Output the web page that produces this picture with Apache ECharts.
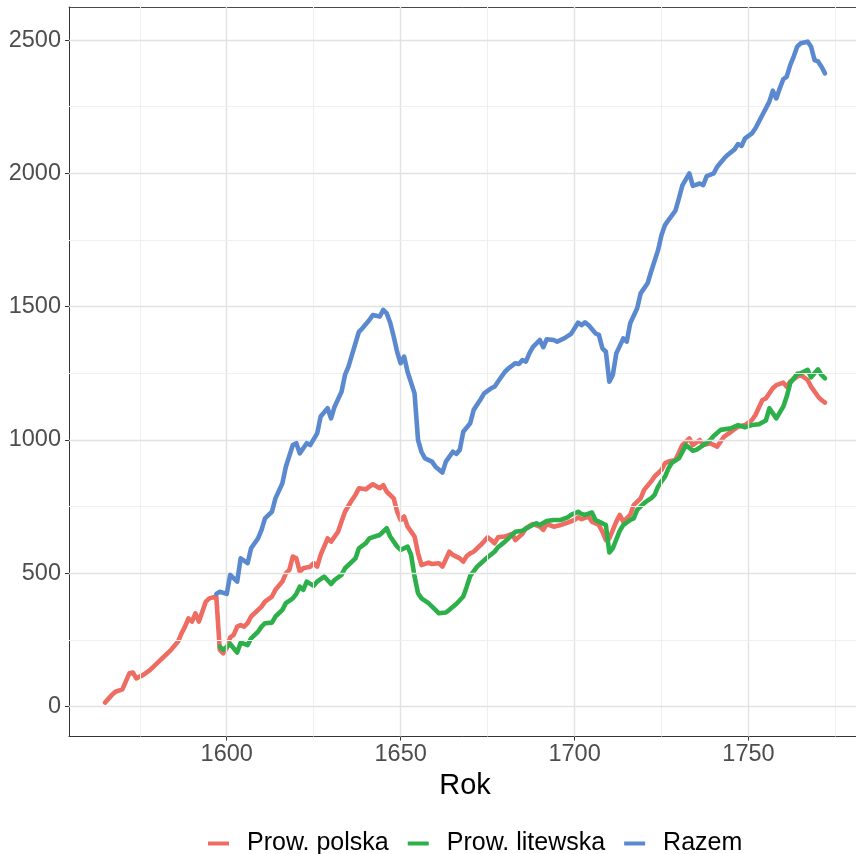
<!DOCTYPE html>
<html>
<head>
<meta charset="utf-8">
<script src="https://cdn.jsdelivr.net/npm/echarts@6/dist/echarts.min.js"></script>
<style>
html,body{margin:0;padding:0;background:#fff;}
#c{width:856px;height:854px;}
</style>
</head>
<body>
<div id="c"></div>
<script>
// ---- data (year, value) ----
const polskaYears = [1565,1567,1568,1570,1572,1573,1574,1576,1578,1580,1582,1584,1586,1587,1588,1589,1590,1591,1592,1594,1595,1597,1598,1599,1600,1601,1602,1603,1604,1605,1606,1607,1608,1610,1611,1613,1614,1616,1617,1618,1619,1620,1621,1622,1624,1625,1626,1627,1629,1630,1632,1633,1634,1636,1637,1638,1640,1641,1642,1644,1645,1646,1648,1649,1650,1651,1652,1654,1655,1656,1658,1659,1661,1662,1664,1665,1667,1668,1669,1670,1671,1672,1673,1674,1675,1676,1677,1678,1680,1682,1683,1685,1686,1688,1690,1691,1692,1694,1696,1698,1700,1701,1702,1704,1705,1707,1708,1709,1710,1712,1713,1714,1716,1717,1719,1720,1722,1723,1725,1726,1727,1729,1731,1733,1734,1736,1737,1739,1741,1743,1745,1747,1749,1751,1752,1754,1755,1757,1758,1760,1761,1762,1764,1765,1767,1768,1770,1771,1772];
const polskaValues = [15,44,56,65,125,128,106,119,138,163,188,213,244,275,300,331,319,350,319,394,406,413,213,200,219,260,269,300,306,300,313,338,350,375,394,413,438,469,500,513,563,556,506,519,525,538,525,569,631,619,656,694,731,775,794,819,815,825,834,819,831,806,781,731,700,713,675,638,575,531,540,535,538,525,581,569,556,544,565,575,581,594,606,620,635,625,613,635,638,648,625,648,669,685,675,663,685,675,681,690,700,710,703,713,694,681,656,625,631,694,719,694,719,756,781,813,844,863,888,913,919,925,981,1006,981,1000,981,988,975,1013,1031,1050,1056,1075,1094,1150,1156,1194,1206,1215,1200,1219,1238,1244,1225,1200,1163,1150,1140];

const litewskaYears = [1598,1599,1601,1603,1604,1606,1607,1609,1610,1611,1613,1614,1616,1617,1619,1620,1621,1622,1623,1625,1626,1628,1630,1631,1633,1634,1635,1637,1638,1640,1641,1643,1644,1646,1647,1649,1650,1652,1653,1654,1655,1656,1658,1660,1661,1663,1664,1666,1668,1669,1670,1672,1673,1675,1677,1678,1680,1681,1683,1685,1687,1689,1690,1692,1694,1696,1698,1699,1701,1702,1703,1705,1706,1707,1709,1710,1711,1713,1714,1716,1717,1718,1720,1721,1722,1723,1724,1725,1726,1727,1728,1730,1732,1734,1735,1737,1739,1740,1742,1745,1747,1749,1751,1753,1755,1756,1758,1760,1761,1762,1764,1765,1767,1768,1770,1771,1772];
const litewskaValues = [225,213,235,203,240,231,256,281,300,313,315,338,363,388,406,423,450,438,469,453,469,488,460,475,494,519,531,556,594,613,631,640,644,669,638,600,588,600,569,488,425,406,388,363,350,353,363,385,413,450,490,525,537,560,581,598,619,631,656,660,675,688,681,696,700,700,710,719,731,723,719,728,700,694,681,578,594,660,681,700,706,738,763,773,781,794,825,845,863,894,915,931,981,960,963,981,1000,1015,1038,1044,1056,1048,1056,1059,1073,1119,1081,1125,1163,1213,1248,1250,1263,1235,1265,1244,1231];

const razemYears = [1597,1598,1600,1601,1603,1604,1606,1607,1609,1610,1611,1613,1614,1616,1617,1619,1620,1621,1623,1624,1626,1627,1629,1630,1631,1633,1634,1635,1636,1638,1639,1641,1642,1644,1645,1646,1647,1648,1649,1650,1651,1652,1654,1655,1656,1657,1659,1660,1662,1663,1665,1666,1667,1668,1670,1671,1673,1674,1676,1677,1679,1680,1681,1683,1684,1685,1686,1687,1688,1690,1691,1692,1694,1695,1697,1699,1701,1702,1703,1704,1706,1707,1708,1709,1710,1711,1712,1714,1715,1716,1718,1719,1721,1722,1724,1725,1726,1727,1729,1730,1731,1733,1734,1736,1737,1738,1740,1741,1743,1744,1746,1747,1748,1749,1751,1752,1754,1755,1756,1757,1758,1759,1760,1761,1762,1763,1764,1765,1767,1768,1769,1770,1771,1772];
const razemValues = [423,431,423,494,469,556,538,594,631,663,706,731,781,838,900,981,988,950,988,981,1025,1088,1119,1081,1125,1181,1244,1275,1319,1406,1419,1450,1469,1463,1488,1475,1440,1388,1330,1288,1313,1255,1175,1000,955,931,919,900,878,919,956,948,963,1031,1063,1113,1153,1175,1194,1200,1238,1256,1269,1288,1285,1300,1294,1325,1348,1375,1348,1378,1375,1369,1381,1398,1440,1431,1441,1431,1400,1394,1344,1331,1219,1244,1325,1381,1369,1438,1494,1550,1588,1631,1712,1769,1806,1825,1860,1906,1955,2000,1953,1962,1956,1990,2000,2025,2056,2069,2090,2110,2103,2131,2150,2169,2219,2244,2269,2310,2281,2319,2353,2363,2406,2438,2475,2488,2494,2475,2425,2420,2400,2375];

const seriesNames = ['Prow. polska', 'Prow. litewska', 'Razem'];
const xTickLabels = [1600, 1650, 1700, 1750];
const xMinorGrid = [1575, 1625, 1675, 1725, 1775];
const yTickLabels = [0, 500, 1000, 1500, 2000, 2500];
const yMinorGrid = [250, 750, 1250, 1750, 2250];
const axisTitleX = 'Rok';

// ---- chart ----
const FONT = '"Liberation Sans", Arial, sans-serif';
const pairs = (xs, ys) => xs.map((x, i) => [x, ys[i]]);
const colors = ['#EE6C62', '#2DB04A', '#5B89CF'];
const X_MIN = 1554.65, X_MAX = 1782.35;

const gridMarks = [];
xTickLabels.forEach(v => gridMarks.push({ xAxis: v, lineStyle: { color: '#E2E2E2', width: 1.4 } }));
xMinorGrid.forEach(v => gridMarks.push({ xAxis: v, lineStyle: { color: '#EFEFEF', width: 1 } }));
yTickLabels.forEach(v => gridMarks.push({ yAxis: v, lineStyle: { color: '#E2E2E2', width: 1.4 } }));
yMinorGrid.forEach(v => gridMarks.push({ yAxis: v, lineStyle: { color: '#EFEFEF', width: 1 } }));

const chart = echarts.init(document.getElementById('c'), null, { renderer: 'canvas' });
chart.setOption({
  animation: false,
  backgroundColor: '#ffffff',
  textStyle: { fontFamily: FONT },
  grid: {
    left: 69, top: 7, width: 792, height: 729.5,
    outerBoundsMode: 'none', containLabel: false, show: false
  },
  xAxis: [{
    type: 'value', position: 'bottom', min: X_MIN, max: X_MAX,
    name: axisTitleX, nameLocation: 'middle', nameGap: 31,
    nameTextStyle: { fontFamily: FONT, fontSize: 29, color: '#000' },
    axisLine: { show: true, onZero: false, lineStyle: { color: '#333', width: 1 } },
    axisTick: { show: true, length: 4, customValues: xTickLabels, lineStyle: { color: '#333', width: 1 } },
    axisLabel: { show: true, customValues: xTickLabels, margin: 6, fontFamily: FONT, fontSize: 23.5, color: '#4D4D4D',
      formatter: v => String(v) },
    splitLine: { show: false }
  }, {
    type: 'value', position: 'top', min: X_MIN, max: X_MAX,
    axisLine: { show: true, onZero: false, lineStyle: { color: '#4a4a4a', width: 1 } },
    axisTick: { show: false }, axisLabel: { show: false }, splitLine: { show: false }
  }],
  yAxis: {
    type: 'value', position: 'left', min: -112, max: 2624,
    axisLine: { show: true, onZero: false, lineStyle: { color: '#333', width: 1 } },
    axisTick: { show: true, length: 4, customValues: yTickLabels, lineStyle: { color: '#333', width: 1 } },
    axisLabel: { show: true, customValues: yTickLabels, margin: 8, fontFamily: FONT, fontSize: 23.5, color: '#4D4D4D',
      formatter: v => String(v) },
    splitLine: { show: false }
  },
  legend: {
    data: seriesNames,
    left: 203, top: 826,
    icon: 'rect', itemWidth: 21, itemHeight: 4, itemGap: 19,
    textStyle: { fontFamily: FONT, fontSize: 25, color: '#000', padding: [0, 0, 0, 13] }
  },
  series: [
    {
      name: '_grid', type: 'line', data: [], silent: true, z: 0,
      markLine: { silent: true, symbol: 'none', label: { show: false }, animation: false, data: gridMarks,
        lineStyle: { type: 'solid' } }
    },
    { name: seriesNames[0], type: 'line', data: pairs(polskaYears, polskaValues), showSymbol: false, color: colors[0],
      lineStyle: { width: 4.6, color: colors[0], join: 'round', cap: 'round' }, z: 3 },
    { name: seriesNames[1], type: 'line', data: pairs(litewskaYears, litewskaValues), showSymbol: false, color: colors[1],
      lineStyle: { width: 4.6, color: colors[1], join: 'round', cap: 'round' }, z: 4 },
    { name: seriesNames[2], type: 'line', data: pairs(razemYears, razemValues), showSymbol: false, color: colors[2],
      lineStyle: { width: 4.6, color: colors[2], join: 'round', cap: 'round' }, z: 5 }
  ]
});
</script>
</body>
</html>
